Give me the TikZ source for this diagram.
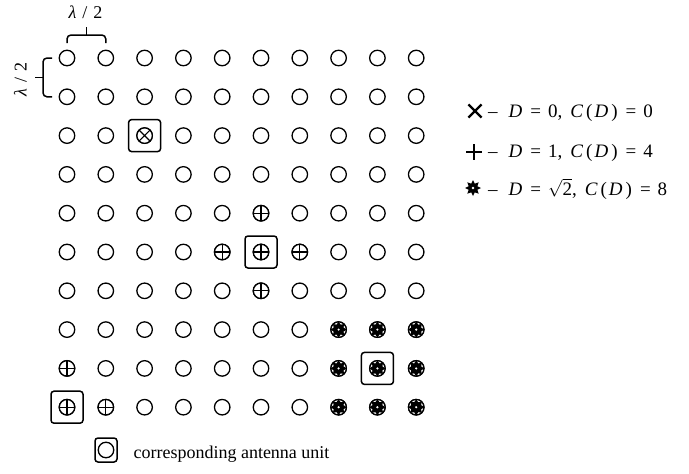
\documentclass[tikz,border=0pt]{standalone}
\usepackage{fontspec}
\setmainfont{Liberation Serif}
\usetikzlibrary{shapes.geometric,shapes.misc,calc}

\tikzset{
  unit/.style={circle, draw, line width=1.3pt, minimum size=15.5pt, inner sep=0pt, fill=white},
  plusunit/.style={unit, path picture={\draw[line width=1.1pt] (path picture bounding box.north) -- (path picture bounding box.south) (path picture bounding box.west) -- (path picture bounding box.east);}},
  crossunit/.style={unit, path picture={\draw[line width=1.1pt] (path picture bounding box.north west) -- (path picture bounding box.south east) (path picture bounding box.south west) -- (path picture bounding box.north east);}},
  starunit/.style={unit, path picture={\node[star, star points=8, star point ratio=1.5, fill=black, inner sep=0pt, minimum size=16pt] at (path picture bounding box.center) {}; \fill[white] (path picture bounding box.center) circle (1.2pt);}},
  selbox/.style={draw, line width=1.5pt, rounded corners=3pt, minimum size=32pt, inner sep=0pt},
  brace/.style={line width=1.5pt, rounded corners=4pt},
  keytext/.style={anchor=base west, inner sep=0pt, font=\fontsize{19}{22}\selectfont},
}
% legend line: value of D, value of C(D)
\newcommand{\keyline}[2]{–\hspace{11pt}\textit{D}\hspace{8pt}=\hspace{7pt}#1,\hspace{8pt}\textit{C}\hspace{3pt}(\hspace{2pt}\textit{D}\hspace{3pt})\hspace{8pt}=\hspace{7pt}#2}

\begin{document}
\begin{tikzpicture}[x=1pt, y=-1pt, font=\fontsize{17.5}{20}\selectfont]
  \useasboundingbox (0,0) rectangle (689,474);

  % antenna array
  \foreach \r in {1,...,10}
    \foreach \c in {1,...,10}
      \node[unit] (u-\r-\c) at ({67+(\c-1)*38.8},{58+(\r-1)*38.8}) {};

  % D = 0
  \node[crossunit] at (u-3-3) {};
  % D = 1
  \foreach \cell in {5-6,6-5,6-6,6-7,7-6,9-1,10-1,10-2}
    \node[plusunit] at (u-\cell) {};
  % D = sqrt 2
  \foreach \r in {8,9,10}
    \foreach \c in {8,9,10}
      \node[starunit] at (u-\r-\c) {};

  % selected units
  \node[selbox] (box-a) at (u-3-3) {};
  \node[selbox] (box-b) at (u-6-6) {};
  \node[selbox] (box-c) at (u-10-1) {};
  \node[selbox] (box-d) at (u-9-9) {};

  % spacing marks
  \draw[brace] ($(u-1-1)+(0,-15)$) -- ($(u-1-1)+(0,-23)$) -- ($(u-1-2)+(0,-23)$) -- ($(u-1-2)+(0,-15)$);
  \coordinate (topmid) at ($(u-1-1)!0.5!(u-1-2)+(0,-23)$);
  \draw[line width=1.5pt] (topmid) -- ++(0,-8.5) coordinate (toptick);
  \node[font=\fontsize{18}{20}\selectfont] (toplabel) at ($(toptick)+(-1,-14)$) {\textit{λ}\hspace{6pt}/\hspace{6pt}2};

  \draw[brace] ($(u-1-1)+(-15,0)$) -- ($(u-1-1)+(-24,0)$) -- ($(u-2-1)+(-24,0)$) -- ($(u-2-1)+(-15,0)$);
  \coordinate (leftmid) at ($(u-1-1)!0.5!(u-2-1)+(-24,0)$);
  \draw[line width=1.5pt] (leftmid) -- ++(-8.5,0) coordinate (lefttick);
  \node[rotate=90, font=\fontsize{18}{20}\selectfont] (leftlabel) at ($(lefttick)+(-14,2)$) {\textit{λ}\hspace{6pt}/\hspace{6pt}2};

  % legend
  \node[cross out, draw, line width=2.2pt, minimum size=11pt, inner sep=0pt] (keyx) at (475,111) {};
  \coordinate (keyplus) at (474,152);
  \draw[line width=2.2pt] ($(keyplus)+(-8,0)$) -- ($(keyplus)+(8,0)$) ($(keyplus)+(0,-8)$) -- ($(keyplus)+(0,8)$);
  \node[star, star points=8, star point ratio=1.7, fill=black, inner sep=0pt, minimum size=16pt] (keystar) at (473,188) {};
  \fill[white] (keystar.center) circle (1.4pt);

  \node[keytext] (keyx-text) at (488,117) {\keyline{0}{0}};
  \node[keytext] (keyplus-text) at (488,157) {\keyline{1}{4}};
  \node[keytext] (keystar-text) at (488,195) {\keyline{$\sqrt{\hbox{2}}$}{8}};

  \node[selbox, minimum width=22pt, minimum height=24pt] (keybox) at (106,450) {};
  \node[unit] (keyunit) at (keybox) {};
  \node[anchor=base west, font=\fontsize{18}{20}\selectfont] (keytext) at (130,458) {corresponding antenna unit};
\end{tikzpicture}
\end{document}
